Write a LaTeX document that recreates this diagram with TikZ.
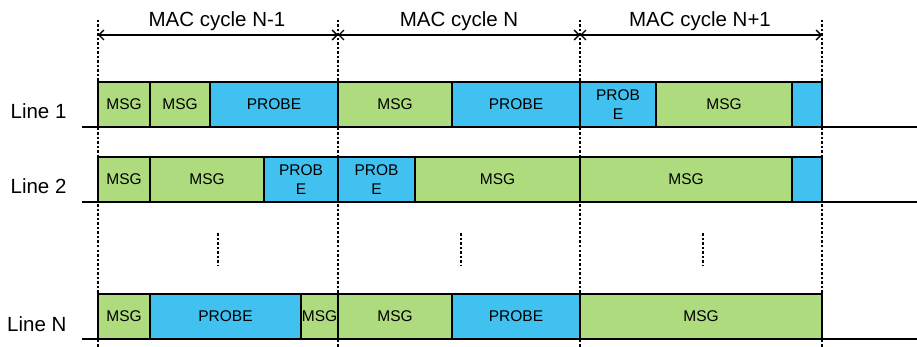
\documentclass[tikz,border=0pt]{standalone}
\usepackage{fontspec}
\setmainfont{Liberation Sans}
\usetikzlibrary{arrows.meta}
\definecolor{msggreen}{RGB}{174,219,125}
\definecolor{probeblue}{RGB}{64,193,240}
\tikzset{
  slot/.style={draw=black, line width=1.4pt, inner sep=0pt, minimum height=45pt,
    font=\fontsize{15.5}{19.5}\selectfont, align=center},
  msgslot/.style={slot, fill=msggreen},
  probeslot/.style={slot, fill=probeblue},
  boundary/.style={line width=1.1pt, dash pattern=on 2.5pt off 2pt},
  baseline rule/.style={line width=1.3pt},
  span/.style={line width=1.3pt, {Straight Barb[length=5pt,width=10pt]}-{Straight Barb[length=5pt,width=10pt]}},
  cyclelabel/.style={anchor=base, font=\fontsize{20.5}{24}\selectfont},
  linelabel/.style={anchor=base east, font=\fontsize{20.5}{24}\selectfont},
}
% \slotbox{name}{x left}{x right}{top}{style}{text}
\newcommand\slotbox[6]{\node[#5, minimum width={(#3-#2)*1pt}] (#1) at ({(#2+#3)/2},{#4+22.5}) {#6};}
\begin{document}
\begin{tikzpicture}[x=1pt,y=-1pt]
  \useasboundingbox (0,0) rectangle (917,347);

  % cycle boundaries
  \foreach \bx in {98,338,580,822}
    \draw[boundary] (\bx,20) -- (\bx,347);

  % cycle spans and titles
  \coordinate (c0) at (98,35);
  \coordinate (c1) at (338,35);
  \coordinate (c2) at (580,35);
  \coordinate (c3) at (822,35);
  \draw[span] (c0) -- (c1);
  \draw[span] (c1) -- (c2);
  \draw[span] (c2) -- (c3);
  \node[cyclelabel] (t1) at (217,27) {MAC cycle N-1};
  \node[cyclelabel] (t2) at (459,27) {MAC cycle N};
  \node[cyclelabel] (t3) at (700,27) {MAC cycle N+1};

  % time axes of each line
  \draw[baseline rule] (82,127) -- (917,127);
  \draw[baseline rule] (82,202) -- (917,202);
  \draw[baseline rule] (82,339) -- (917,339);

  % line labels
  \node[linelabel] (l1) at (70,119) {Line 1};
  \node[linelabel] (l2) at (70,194) {Line 2};
  \node[linelabel] (lN) at (70,331) {Line N};

  % Line 1
  \slotbox{a1}{98}{150}{82}{msgslot}{MSG}
  \slotbox{a2}{150}{210}{82}{msgslot}{MSG}
  \slotbox{a3}{210}{338}{82}{probeslot}{PROBE}
  \slotbox{a4}{338}{452}{82}{msgslot}{MSG}
  \slotbox{a5}{452}{580}{82}{probeslot}{PROBE}
  \slotbox{a6}{580}{656}{82}{probeslot}{PROB\\E}
  \slotbox{a7}{656}{792}{82}{msgslot}{MSG}
  \slotbox{a8}{792}{822}{82}{probeslot}{}

  % Line 2
  \slotbox{b1}{98}{150}{157}{msgslot}{MSG}
  \slotbox{b2}{150}{264}{157}{msgslot}{MSG}
  \slotbox{b3}{264}{338}{157}{probeslot}{PROB\\E}
  \slotbox{b4}{338}{415}{157}{probeslot}{PROB\\E}
  \slotbox{b5}{415}{580}{157}{msgslot}{MSG}
  \slotbox{b6}{580}{792}{157}{msgslot}{MSG}
  \slotbox{b7}{792}{822}{157}{probeslot}{}

  % Line N
  \slotbox{n1}{98}{150}{294}{msgslot}{MSG}
  \slotbox{n2}{150}{301}{294}{probeslot}{PROBE}
  \slotbox{n3}{301}{338}{294}{msgslot}{MSG}
  \slotbox{n4}{338}{452}{294}{msgslot}{MSG}
  \slotbox{n5}{452}{580}{294}{probeslot}{PROBE}
  \slotbox{n6}{580}{822}{294}{msgslot}{MSG}

  % omitted lines
  \foreach \vx in {218,461,703}
    \draw[boundary] (\vx,233) -- (\vx,266);
\end{tikzpicture}
\end{document}
